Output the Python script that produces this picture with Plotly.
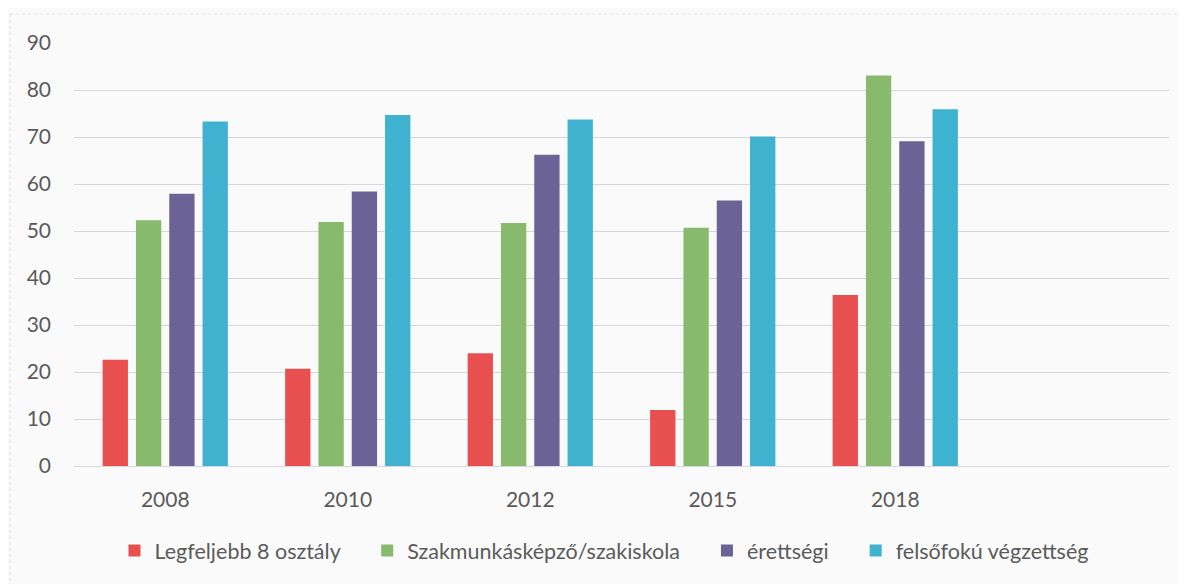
import plotly.graph_objects as go

years = ["2008", "2010", "2012", "2015", "2018"]
all_categories = ["2008", "2010", "2012", "2015", "2018", " "]

series_names = [
    "Legfeljebb 8 osztály",
    "Szakmunkásképző/szakiskola",
    "érettségi",
    "felsőfokú végzettség",
]
legfeljebb_8 = [22.6, 20.7, 24.0, 11.9, 36.4]
szakmunkas = [52.3, 51.9, 51.7, 50.7, 83.1]
erettsegi = [57.9, 58.4, 66.2, 56.5, 69.1]
felsofoku = [73.3, 74.7, 73.7, 70.1, 75.9]

colors = ["#E8504F", "#88BA6D", "#6B6395", "#3FB2CF"]
y_ticks = [0, 10, 20, 30, 40, 50, 60, 70, 80, 90]

pad = "\u00a0" * 4
fig = go.Figure()
for i, (name, vals, col) in enumerate(zip(series_names,
                           [legfeljebb_8, szakmunkas, erettsegi, felsofoku],
                           colors)):
    label = name + (pad if i < len(series_names) - 1 else "")
    fig.add_trace(go.Bar(x=years, y=vals, name=label,
                         marker=dict(color=col, line=dict(width=0))))

font_family = "Lato, 'Open Sans', sans-serif"
fig.update_layout(
    width=1178, height=576,
    margin=dict(l=66, r=17, t=35, b=118),
    paper_bgcolor="#fafafa",
    plot_bgcolor="#fafafa",
    barmode="group",
    bargap=0.27,
    bargroupgap=0.24,
    font=dict(family=font_family, size=21, color="#5a5a5a"),
    showlegend=True,
    legend=dict(orientation="h", x=0.484, xanchor="center", y=-0.2,
                yanchor="middle", font=dict(size=21.5, color="#5a5a5a"),
                itemwidth=30, bgcolor="rgba(0,0,0,0)"),
    xaxis=dict(type="category", categoryorder="array",
               categoryarray=all_categories, range=[-0.5, 5.5],
               showgrid=False, showline=False, zeroline=False,
               ticks="", ticklabelstandoff=19,
               tickfont=dict(size=21, color="#5a5a5a")),
    yaxis=dict(range=[0, 90], tickvals=y_ticks, showgrid=True,
               gridcolor="#d6d6e0", gridwidth=1, zeroline=True,
               zerolinecolor="#d6d6e0", zerolinewidth=1,
               showline=False, ticks="", ticklabelstandoff=22,
               tickfont=dict(size=21, color="#5a5a5a")),
    shapes=[
        dict(type="line", xref="paper", yref="paper",
             x0=-0.0584, x1=-0.0584, y0=1.0686, y1=-0.35,
             line=dict(color="#dcdcdc", width=1, dash="dot")),
        dict(type="line", xref="paper", yref="paper",
             x0=-0.0584, x1=1.02, y0=1.0686, y1=1.0686,
             line=dict(color="#e2e2e2", width=1, dash="dot")),
    ],
)

fig.write_html("out.html")
